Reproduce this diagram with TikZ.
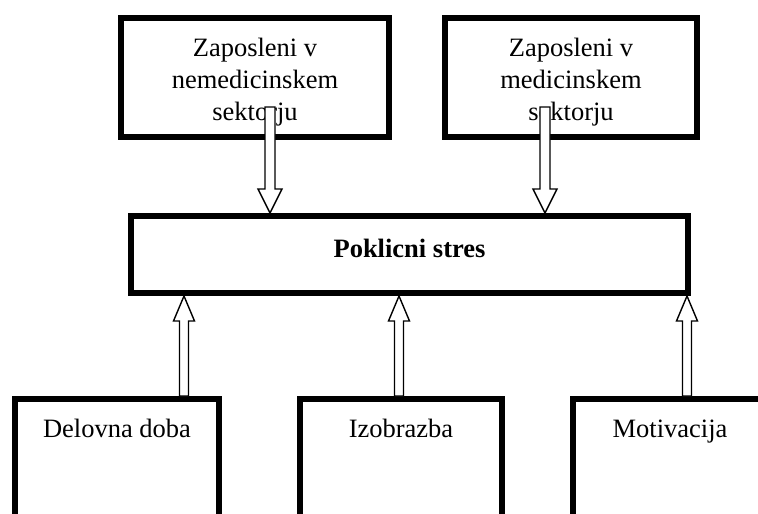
\documentclass[tikz,border=0pt]{standalone}
\usepackage{fontspec}
\setmainfont{Liberation Serif}
\usetikzlibrary{calc}
\tikzset{
  box/.style={draw, line width=6pt, fill=white, align=center, inner sep=0pt,
    font=\fontsize{26.5}{32}\selectfont},
  topbox/.style={box, text height=102pt, text depth=17pt},
  lowbox/.style={box, text height=38pt, text depth=150pt},
  blockarrow/.style={draw, fill=white, line width=1.4pt, line join=miter}
}
% #1 start, #2 tip, #3 half shaft width, #4 half head width, #5 signed head length
\newcommand{\hollowarrow}[5]{%
  \path[blockarrow] ($(#1)+(-#3,0)$) -- ($(#2)+(-#3,#5)$) -- ($(#2)+(-#4,#5)$) -- (#2)
    -- ($(#2)+(#4,#5)$) -- ($(#2)+(#3,#5)$) -- ($(#1)+(#3,0)$) -- cycle;}
\begin{document}
\begin{tikzpicture}[x=1pt,y=-1pt]
\useasboundingbox (0,0) rectangle (758,514);
\clip (0,0) rectangle (758,514);
\node[topbox, minimum width=268pt] (tl) at (255,77.5)
  {Zaposleni v\\nemedicinskem\\sektorju};
\node[topbox, minimum width=252pt] (tr) at (571,77.5)
  {Zaposleni v\\medicinskem\\sektorju};
\node[box, minimum width=557pt, text height=41pt, text depth=36pt,
  font=\fontsize{26.5}{32}\selectfont\bfseries] (mid) at (409.5,254.5) {Poklicni stres};
\node[lowbox, minimum width=204pt] (b1) at (117,493) {Delovna doba};
\node[lowbox, minimum width=202pt] (b2) at (401,493) {Izobrazba};
\node[lowbox, minimum width=194pt] (b3) at (670,493) {Motivacija};
% arrows from top boxes
\coordinate (a1s) at ($(tl.south)+(15,-33)$);
\coordinate (a1t) at (a1s |- mid.north);
\hollowarrow{a1s}{a1t}{5}{12}{-24}
\coordinate (a2s) at ($(tr.south)+(-26,-33)$);
\coordinate (a2t) at (a2s |- mid.north);
\hollowarrow{a2s}{a2t}{5}{12}{-24}
% arrows from bottom boxes
\coordinate (b1s) at ($(b1.north)+(67,0)$);
\coordinate (b1t) at (b1s |- mid.south);
\hollowarrow{b1s}{b1t}{4.5}{10.5}{25}
\coordinate (b2s) at ($(b2.north)+(-2,0)$);
\coordinate (b2t) at (b2s |- mid.south);
\hollowarrow{b2s}{b2t}{4.5}{10.5}{25}
\coordinate (b3s) at ($(b3.north)+(17,0)$);
\coordinate (b3t) at (b3s |- mid.south);
\hollowarrow{b3s}{b3t}{4.5}{10.5}{25}
\end{tikzpicture}
\end{document}
